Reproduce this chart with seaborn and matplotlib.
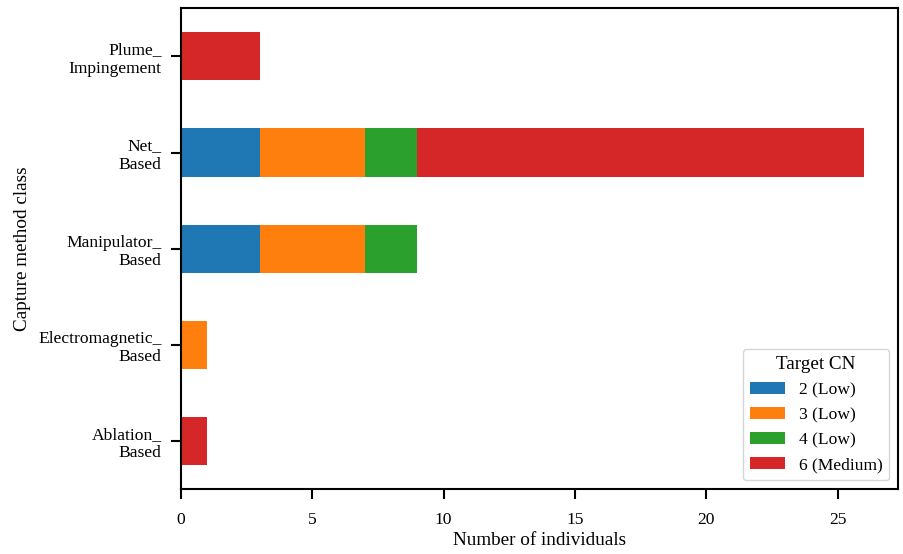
import numpy as np
import pandas as pd
import matplotlib
matplotlib.use("Agg")
import matplotlib.pyplot as plt
from matplotlib.patches import Patch
import seaborn as sns

# Capture method classes, top to bottom
categories = [
    "Plume_\nImpingement",
    "Net_\nBased",
    "Manipulator_\nBased",
    "Electromagnetic_\nBased",
    "Ablation_\nBased",
]
cn_levels = ["2 (Low)", "3 (Low)", "4 (Low)", "6 (Medium)"]

# Number of individuals per target CN level
cn2_counts = [0, 3, 3, 0, 0]
cn3_counts = [0, 4, 4, 1, 0]
cn4_counts = [0, 2, 2, 0, 0]
cn6_counts = [3, 17, 0, 0, 1]

colors = ["#1f77b4", "#ff7f0e", "#2ca02c", "#d62728"]

label_size = 13.8
tick_size = 12.6

sns.set_style("ticks")
plt.rcParams["font.family"] = ["Liberation Serif", "DejaVu Serif"]
plt.rcParams["font.size"] = tick_size
plt.rcParams["text.color"] = "black"
plt.rcParams["axes.labelcolor"] = "black"
plt.rcParams["axes.linewidth"] = 1.5
plt.rcParams["xtick.major.width"] = 1.5
plt.rcParams["ytick.major.width"] = 1.5
plt.rcParams["xtick.major.size"] = 7
plt.rcParams["ytick.major.size"] = 7
plt.rcParams["xtick.major.pad"] = 9.5
plt.rcParams["ytick.major.pad"] = 7
plt.rcParams["xtick.color"] = "black"
plt.rcParams["ytick.color"] = "black"
plt.rcParams["axes.edgecolor"] = "black"

df = pd.DataFrame(
    {"category": categories,
     cn_levels[0]: cn2_counts,
     cn_levels[1]: cn3_counts,
     cn_levels[2]: cn4_counts,
     cn_levels[3]: cn6_counts}
)
cum = df[cn_levels].cumsum(axis=1)

fig, ax = plt.subplots(figsize=(9.04, 5.54), dpi=100)
fig.subplots_adjust(left=0.2002, right=0.9934, top=0.985, bottom=0.1173)

# Stacked bars: draw running totals from the outermost segment inward
for level, color in reversed(list(zip(cn_levels, colors))):
    sns.barplot(x=cum[level], y=df["category"], order=categories,
                color=color, width=0.5, orient="h", ax=ax,
                saturation=1, linewidth=0, edgecolor="none")

for side in ["top", "right"]:
    ax.spines[side].set_visible(True)

ax.set_xlabel("Number of individuals", fontsize=label_size, labelpad=3)
ax.set_ylabel("Capture method class", fontsize=label_size, labelpad=5)
ax.set_xticks([0, 5, 10, 15, 20, 25])
ax.set_xlim(0, 27.3)
ax.set_ylim(4.5, -0.5)
ax.tick_params(axis="both", labelsize=tick_size, colors="black")

handles = [Patch(facecolor=c, edgecolor="none", label=l)
           for l, c in zip(cn_levels, colors)]
leg = ax.legend(handles=handles, title="Target CN", loc="lower right",
                fontsize=tick_size, title_fontsize=label_size)
leg.get_frame().set_edgecolor("0.8")

fig.savefig("out.png", dpi=100)
